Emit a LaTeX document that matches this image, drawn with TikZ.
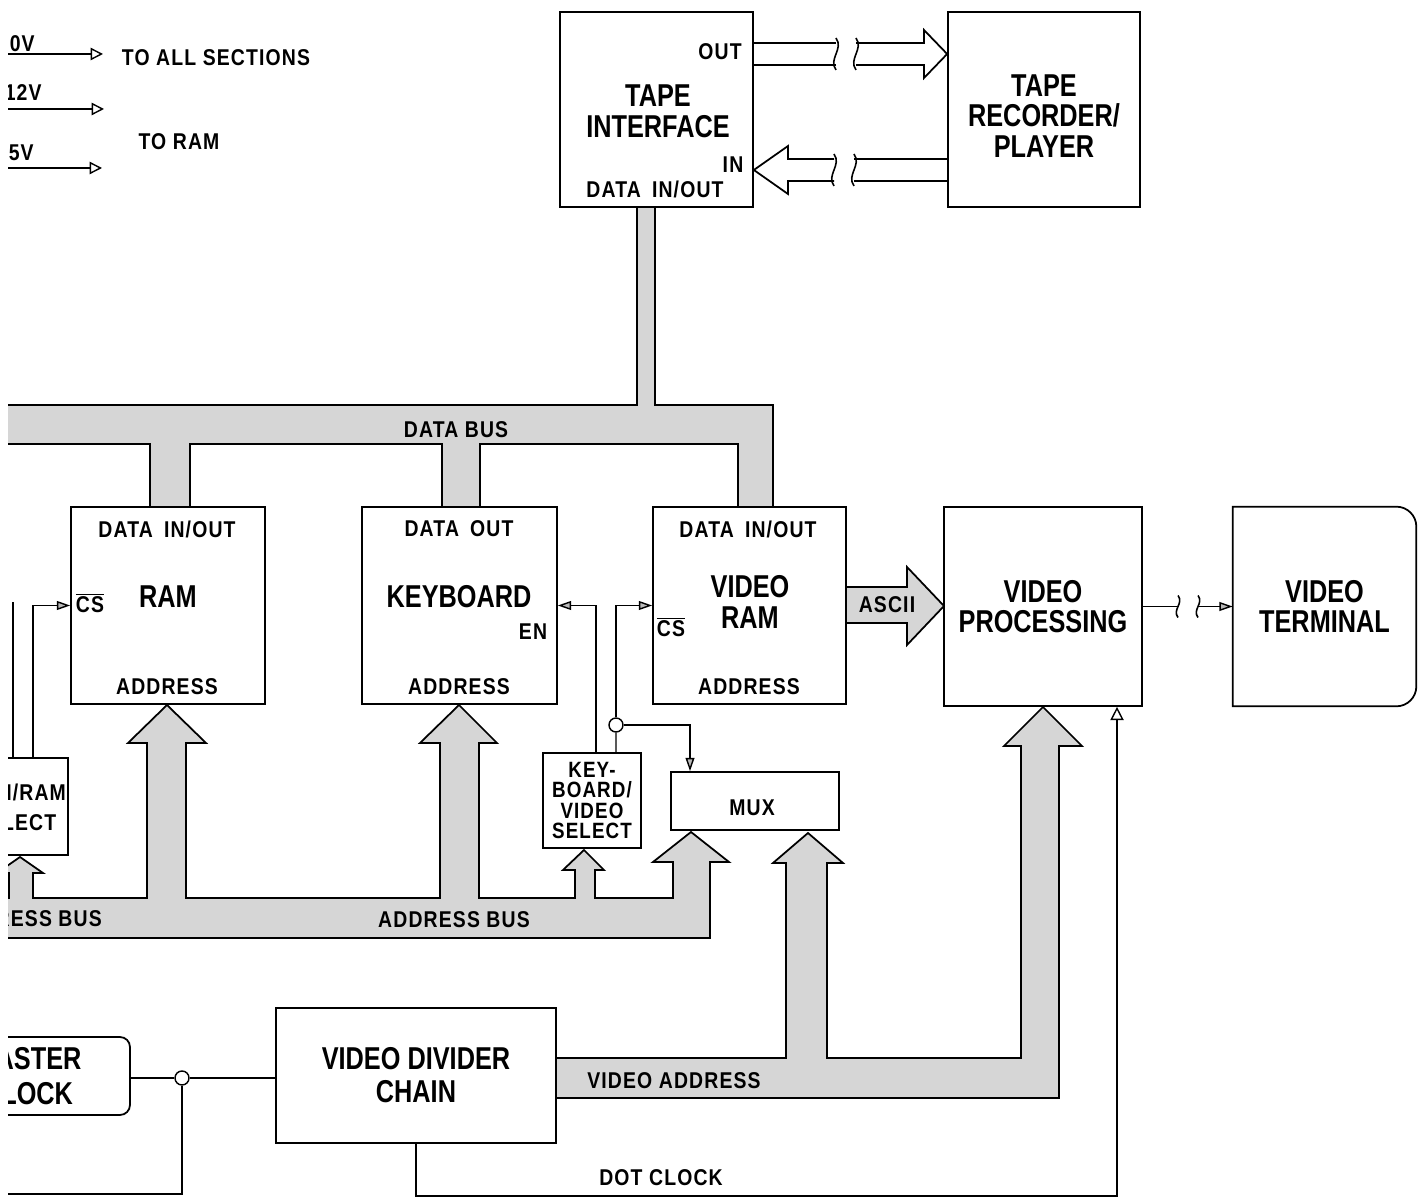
\documentclass[tikz,border=0pt]{standalone}
\usepackage{fontspec}
\setmainfont{Liberation Sans}
\newfontfamily\ttlfont{Liberation Sans}[FakeStretch=0.8]
\newfontfamily\lblfont{Liberation Sans}[FakeStretch=0.85,LetterSpace=5]
\usetikzlibrary{arrows.meta}

\tikzset{
  blk/.style={draw,line width=1pt,inner sep=0pt},
  ttl/.style={font=\ttlfont\bfseries\fontsize{18}{17.5}\selectfont,align=center,inner sep=0pt},
  lbl/.style={font=\lblfont\bfseries\fontsize{13}{13}\selectfont,align=center,inner sep=0pt},
  bus/.style={draw,fill=gray!32,line width=1pt},
  sig/.style={line width=0.8pt},
  fintip/.style={-{Triangle[length=7.5pt,width=5pt,fill=gray!55]}},
  pwrtip/.style={-{Triangle[open,length=7pt,width=7pt]}},
  brk/.pic={\draw[line width=0.9pt] (0,-16) .. controls (8,-5) and (-8,5) .. (0,16);},
  smallbrk/.pic={\draw[line width=0.9pt] (0,-11) .. controls (6,-3) and (-6,3) .. (0,11);},
}

\begin{document}
\begin{tikzpicture}[x=0.02cm,y=-0.02cm]
  \useasboundingbox (0,0) rectangle (1418,1199);
  \clip (8,0) rectangle (1418,1199);

  % supply lines
  \coordinate (s0a) at (0,54);  \coordinate (s0b) at (103,54);
  \coordinate (s1a) at (0,109); \coordinate (s1b) at (104,109);
  \coordinate (s2a) at (0,168); \coordinate (s2b) at (102,168);
  \draw[sig,pwrtip] (s0a) -- (s0b);
  \draw[sig,pwrtip] (s1a) -- (s1b);
  \draw[sig,pwrtip] (s2a) -- (s2b);
  \node[lbl,anchor=east] (v0) at (35,44) {0V};
  \node[lbl,anchor=east] (v12) at (42,93) {12V};
  \node[lbl,anchor=east] (v5) at (34,153) {5V};
  \node[lbl] (toall) at (216,58) {TO ALL SECTIONS};
  \node[lbl] (toram) at (179,142) {TO RAM};

  % data bus
  \draw[bus] (0,405) -- (637,405) -- (637,207) -- (655,207) -- (655,405)
    -- (773,405) -- (773,507) -- (738,507) -- (738,444) -- (480,444)
    -- (480,507) -- (442,507) -- (442,444) -- (190,444) -- (190,507)
    -- (150,507) -- (150,444) -- (0,444) -- cycle;
  % address bus
  \draw[bus] (0,938) -- (710,938) -- (710,862) -- (729,862) -- (691,832)
    -- (653,862) -- (673,862) -- (673,898) -- (595,898) -- (595,870)
    -- (604,870) -- (584,850) -- (563,870) -- (575,870) -- (575,898)
    -- (479,898) -- (479,743) -- (497,743) -- (459,705) -- (420,743)
    -- (440,743) -- (440,898) -- (186,898) -- (186,743) -- (206,743)
    -- (167,705) -- (128,743) -- (147,743) -- (147,898) -- (33,898)
    -- (33,873) -- (43,873) -- (20,857) -- (-3,873) -- (9,873)
    -- (9,898) -- (0,898) -- cycle;
  % video address
  \draw[bus] (556,1058) -- (786,1058) -- (786,863) -- (773,863) -- (808,833)
    -- (843,863) -- (827,863) -- (827,1058) -- (1021,1058) -- (1021,746)
    -- (1004,746) -- (1043,707) -- (1082,746) -- (1059,746) -- (1059,1098)
    -- (556,1098) -- cycle;
  % ascii
  \draw[bus] (846,587) -- (907,587) -- (907,567) -- (944,606) -- (907,645)
    -- (907,623) -- (846,623) -- cycle;

  \node[lbl] (dbus) at (456,430) {DATA BUS};
  \node[lbl] (abusl) at (26,919) {ADDRESS BUS};
  \node[lbl] (abus) at (454,920) {ADDRESS BUS};
  \node[lbl] (vaddr) at (674,1081) {VIDEO ADDRESS};
  \node[lbl] (ascii) at (887,605) {ASCII};

  % blocks
  \node[blk,minimum width=3.86cm,minimum height=3.9cm] (tape) at (656.5,109.5) {};
  \node[blk,minimum width=3.84cm,minimum height=3.9cm] (rec) at (1044,109.5) {};
  \node[blk,minimum width=3.88cm,minimum height=3.94cm] (ram) at (168,605.5) {};
  \node[blk,minimum width=3.9cm,minimum height=3.94cm] (kbd) at (459.5,605.5) {};
  \node[blk,minimum width=3.86cm,minimum height=3.94cm] (vram) at (749.5,605.5) {};
  \node[blk,ttl,minimum width=3.96cm,minimum height=3.98cm] (vproc) at (1043,606.5) {VIDEO\\PROCESSING};
  \node[ttl,minimum width=3.66cm,minimum height=3.98cm] (vterm) at (1324.5,606.5) {VIDEO\\TERMINAL};
  \draw[line width=1pt] (vterm.south west) -- (vterm.north west)
    -- ([xshift=-0.4cm]vterm.north east) arc[start angle=90,end angle=0,radius=0.4cm]
    -- ([yshift=0.4cm]vterm.south east) arc[start angle=0,end angle=-90,radius=0.4cm]
    -- cycle;
  \node[blk,minimum width=2.56cm,minimum height=1.94cm] (rrsel) at (4,806.5) {};
  \node[blk,lbl,font=\lblfont\bfseries\fontsize{12.6}{11.7}\selectfont,
    minimum width=1.96cm,minimum height=1.9cm] (kvsel) at (592,800.5) {KEY-\\BOARD/\\VIDEO\\SELECT};
  \node[blk,minimum width=3.36cm,minimum height=1.16cm] (mux) at (755,801) {};
  \node[blk,ttl,font=\ttlfont\bfseries\fontsize{18}{19.8}\selectfont,rounded corners=0.2cm,
    minimum width=4.08cm,minimum height=1.56cm] (mclk) at (28,1076) {MASTER\\CLOCK};
  \node[blk,ttl,font=\ttlfont\bfseries\fontsize{18}{18.7}\selectfont,
    minimum width=5.6cm,minimum height=2.7cm] (vdiv) at (416,1075.5) {VIDEO DIVIDER\\CHAIN};

  % texts in the blocks
  \node[ttl] (tapet) at (658,111) {TAPE\\INTERFACE};
  \node[lbl] (tapeo) at (720,52) {OUT};
  \node[lbl] (tapei) at (733,165) {IN};
  \node[lbl] (taped) at (655,189) {DATA\hspace{0.2em} IN/OUT};
  \node[ttl] (rect) at (1044,116) {TAPE\\RECORDER/\\PLAYER};
  \node[lbl] (ramd) at (167,529) {DATA\hspace{0.2em} IN/OUT};
  \node[ttl] (ramt) at (168,597) {RAM};
  \node[lbl] (ramcs) at (90,603) {$\overline{\mbox{CS}}$};
  \node[lbl] (rama) at (167,687) {ADDRESS};
  \node[lbl] (kbdd) at (459,529) {DATA\hspace{0.2em} OUT};
  \node[ttl] (kbdt) at (459,597) {KEYBOARD};
  \node[lbl] (kbden) at (533,632) {EN};
  \node[lbl] (kbda) at (459,687) {ADDRESS};
  \node[lbl] (vramd) at (748,529) {DATA\hspace{0.2em} IN/OUT};
  \node[ttl] (vramt) at (750,602) {VIDEO\\RAM};
  \node[lbl] (vramcs) at (671,627) {$\overline{\mbox{CS}}$};
  \node[lbl] (vrama) at (749,687) {ADDRESS};
  \node[lbl,font=\lblfont\bfseries\fontsize{13}{17}\selectfont] (rrselt) at (15,807) {ROM/RAM\\SELECT};
  \node[lbl] (muxt) at (752,808) {MUX};
  \node[lbl] (dotck) at (661,1178) {DOT CLOCK};

  % tape lines
  \draw[line width=1pt] (tape.east |- 0,43) -- (836,43) (tape.east |- 0,65) -- (836,65);
  \pic at (836,54) {brk};
  \pic at (856,54) {brk};
  \draw[line width=1pt] (856,43) -- (924,43) -- (924,30) -- (rec.west |- 0,54)
    -- (924,78) -- (924,65) -- (856,65);
  \draw[line width=1pt] (rec.west |- 0,159) -- (854,159) (rec.west |- 0,181) -- (854,181);
  \pic at (854,170) {brk};
  \pic at (834,170) {brk};
  \draw[line width=1pt] (834,159) -- (788,159) -- (788,146) -- (tape.east |- 0,170)
    -- (788,194) -- (788,181) -- (834,181);

  % select lines
  \node[circle,draw,sig,fill=white,inner sep=0pt,minimum size=0.28cm] (selj) at (616,725) {};
  \node[circle,draw,sig,fill=white,inner sep=0pt,minimum size=0.28cm] (clkj) at (182,1078) {};
  \draw[sig,fintip] ([xshift=-0.72cm]rrsel.north east) |- (ram.west);
  \draw[sig] ([xshift=-1.12cm]rrsel.north east) -- ++(0,-155);
  \draw[sig,fintip] ([xshift=0.08cm]kvsel.north) |- (kbd.east);
  \draw[sig] ([xshift=0.48cm]kvsel.north) -- (selj.south);
  \draw[sig,fintip] (selj.north) |- (vram.west);
  \draw[sig,fintip] (selj.east) -| ([xshift=-1.3cm]mux.north);

  % video out
  \coordinate (vt1) at (1178,606.5);
  \coordinate (vt2) at (1198,606.5);
  \draw[sig] (vproc.east) -- (vt1);
  \pic at (vt1) {smallbrk};
  \pic at (vt2) {smallbrk};
  \draw[sig,fintip] (vt2) -- (vterm.west);

  % clocks
  \coordinate (clkout) at (0,1194);
  \coordinate (dotc) at (1117,1196);
  \draw[sig] (mclk.east |- clkj) -- (clkj.west);
  \draw[sig] (clkj.east) -- (vdiv.west |- clkj);
  \draw[sig] (clkj.south) |- (clkout);
  \draw[sig,-{Triangle[open,length=7.5pt,width=7.5pt]}] (vdiv.south) |- (dotc) -- (vproc.south -| dotc);
\end{tikzpicture}
\end{document}
